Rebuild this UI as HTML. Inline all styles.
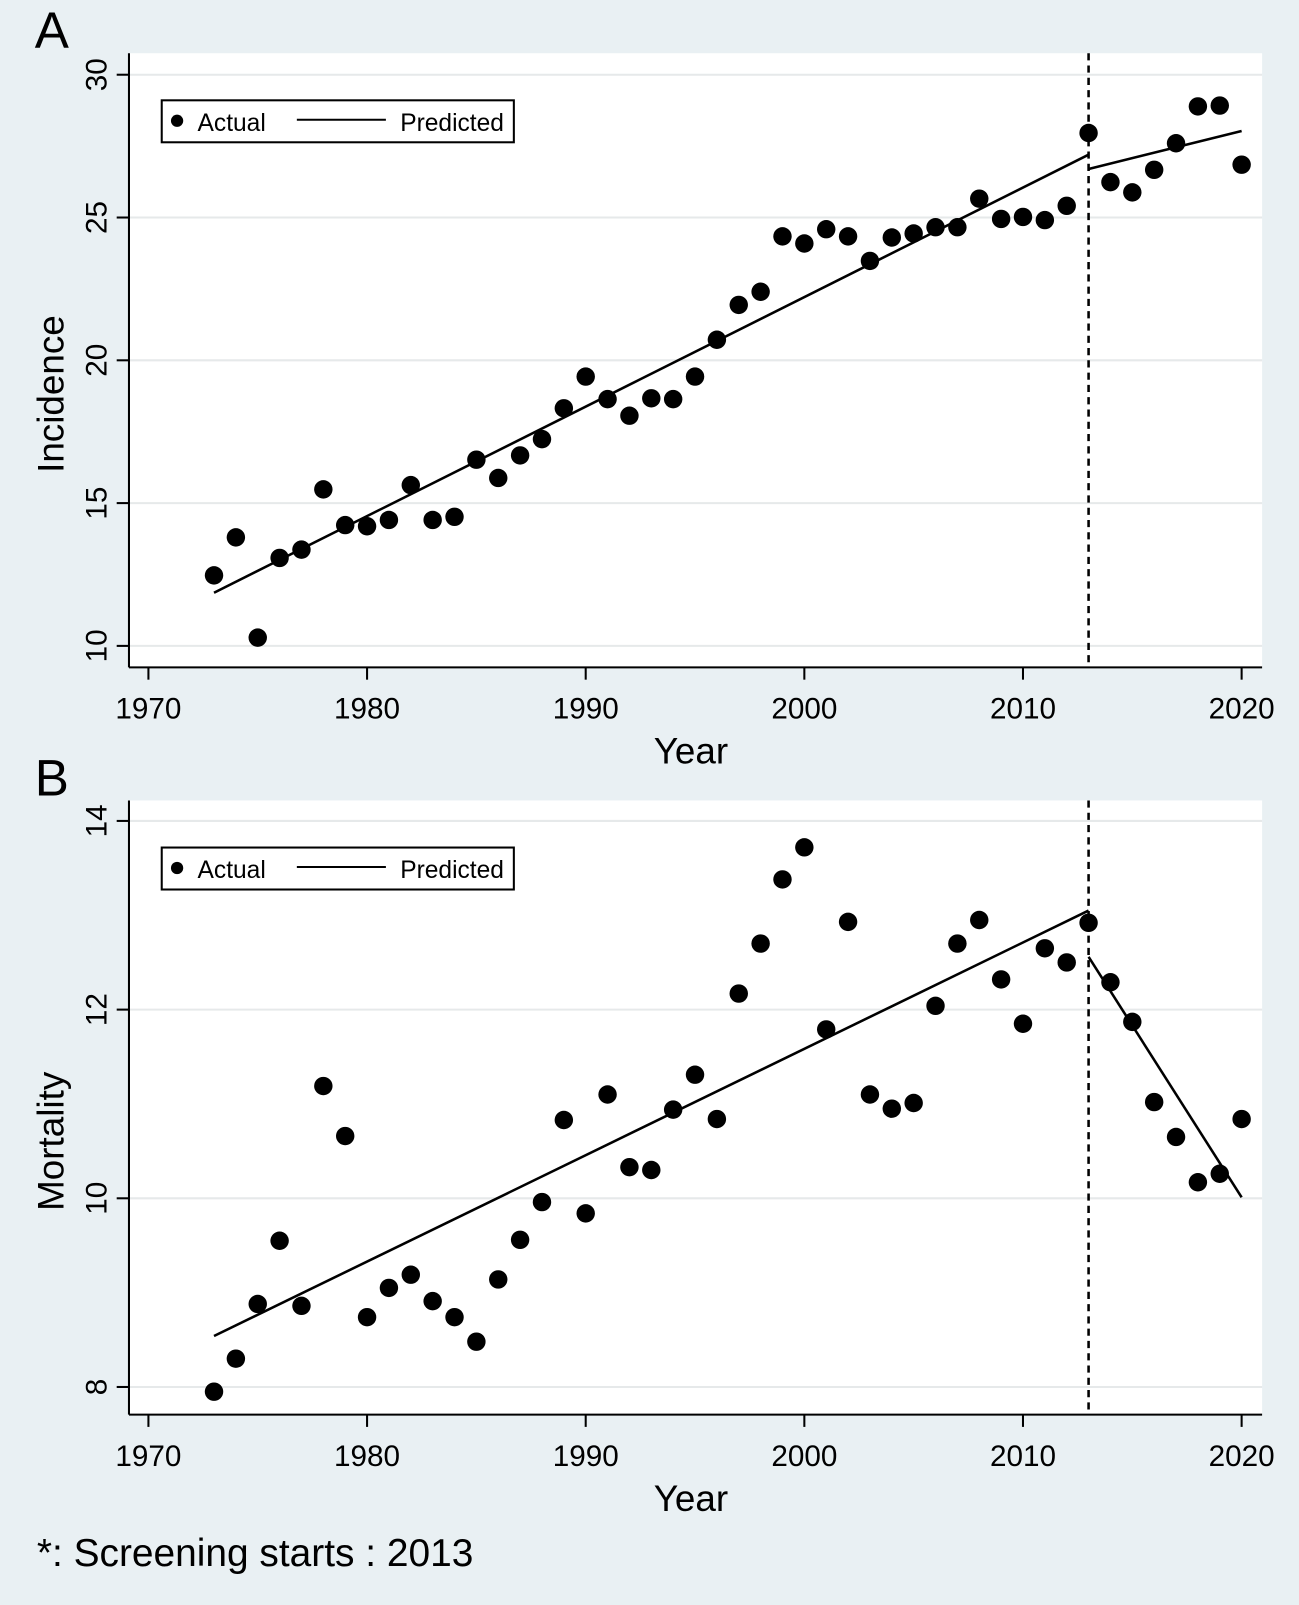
<!DOCTYPE html>
<html><head><meta charset="utf-8"><style>
body{margin:0;background:#e9f0f3;}
svg{display:block;font-family:"Liberation Sans",sans-serif;}
</style></head><body>
<svg id="c" width="1299" height="1605"><g id="root" transform="scale(1.0236)"></g></svg>
<script>
const years=[];for(let y=1973;y<=2020;y++)years.push(y);
const incidence=[12.47,13.8,10.29,13.08,13.37,15.48,14.23,14.19,14.41,15.63,14.41,14.52,16.52,15.88,16.67,17.24,18.32,19.43,18.64,18.06,18.67,18.64,19.43,20.72,21.94,22.4,24.34,24.09,24.59,24.34,23.48,24.3,24.44,24.66,24.66,25.66,24.95,25.02,24.91,25.41,27.96,26.24,25.88,26.67,27.6,28.89,28.92,26.85];
const mortality=[7.95,8.30,8.88,9.55,8.86,11.19,10.66,8.74,9.05,9.19,8.91,8.74,8.48,9.14,9.56,9.96,10.83,9.84,11.10,10.33,10.30,10.94,11.31,10.84,12.17,12.70,13.38,13.72,11.79,12.93,11.10,10.95,11.01,12.04,12.70,12.95,12.32,11.85,12.65,12.50,12.92,12.29,11.87,11.02,10.65,10.17,10.26,10.84];
const predIncYears=[1973,2013],predIncVals=[11.86,27.2];
const predIncYears2=[2013,2020],predIncVals2=[26.7,28.03];
const predMortYears=[1973,2013],predMortVals=[8.54,13.05];
const predMortYears2=[2013,2020],predMortVals2=[12.56,10.01];
const xTicks=[1970,1980,1990,2000,2010,2020];
const incTicks=[10,15,20,25,30];
const mortTicks=[8,10,12,14];
const NS='http://www.w3.org/2000/svg';
const svg=document.getElementById('root');
function mk(t,a,p){const e=document.createElementNS(NS,t);for(const k in a)e.setAttribute(k,a[k]);(p||svg).appendChild(e);return e;}
const X=y=>145+(y-1970)*(1213-145)/50;
function panel(o){
  const g=mk('g',{});
  
  
  const Y=v=>o.y0px+(v-o.v0)*(o.y1px-o.y0px)/(o.v1-o.v0);
  const bg=mk('rect',{x:126,y:o.top,width:1107,height:600,fill:'#fff'},g);
  
  o.ticks.forEach(t=>{
    const gl=mk('line',{x1:126,x2:1233,y1:Y(t),y2:Y(t),stroke:'#e6e9ea','stroke-width':2},g);
    
    mk('line',{x1:114,x2:126,y1:Y(t),y2:Y(t),stroke:'#000','stroke-width':2},g);
    const tx=mk('text',{x:0,y:0,'font-size':29,'text-anchor':'middle',transform:`translate(104,${Y(t)}) rotate(-90)`},g);
    tx.textContent=t;
    
  });
  mk('line',{x1:126,x2:126,y1:o.top,y2:o.top+600,stroke:'#000','stroke-width':2},g);
  mk('line',{x1:126,x2:1233,y1:o.top+600,y2:o.top+600,stroke:'#000','stroke-width':2},g);
  xTicks.forEach(t=>{
    mk('line',{x1:X(t),x2:X(t),y1:o.top+600,y2:o.top+612,stroke:'#000','stroke-width':2},g);
    const tx=mk('text',{x:X(t),y:o.top+650,'font-size':29,'text-anchor':'middle'},g);
    tx.textContent=t;
    
  });
  const xt=mk('text',{x:675,y:o.top+694,'font-size':36,'text-anchor':'middle'},g);xt.textContent='Year';
  
  const yt=mk('text',{x:0,y:0,'font-size':36,'text-anchor':'middle',transform:`translate(62,${o.top+333}) rotate(-90)`},g);yt.textContent=o.title;
  
  const pl=mk('text',{x:34,y:o.top-5,'font-size':50},g);pl.textContent=o.letter;
  
  const vl=mk('line',{x1:X(2013),x2:X(2013),y1:o.top,y2:o.top+600,stroke:'#000','stroke-width':2.5,'stroke-dasharray':'7,5'},g);
  
  [[o.p1y,o.p1v],[o.p2y,o.p2v]].forEach(([ys,vs])=>{
    const l=mk('polyline',{points:ys.map((y,i)=>X(y)+','+Y(vs[i])).join(' '),fill:'none',stroke:'#000','stroke-width':2.5},g);
    
  });
  o.data.forEach((v,i)=>{
    const c=mk('circle',{cx:X(years[i]),cy:Y(v),r:9,fill:'#000'},g);
    
  });
  const lg=mk('g',{},g);
  
  mk('rect',{x:158,y:o.top+46,width:344,height:41,fill:'#fff',stroke:'#000','stroke-width':2},lg);
  mk('circle',{cx:173,cy:o.top+66,r:6,fill:'#000'},lg);
  const a=mk('text',{x:193,y:o.top+76,'font-size':24},lg);a.textContent='Actual';
  mk('line',{x1:290,x2:377,y1:o.top+65,y2:o.top+65,stroke:'#000','stroke-width':2},lg);
  const p=mk('text',{x:391,y:o.top+76,'font-size':24},lg);p.textContent='Predicted';
}
panel({name:'incidence-panel',top:52,title:'Incidence',letter:'A',ticks:incTicks,v0:10,v1:30,y0px:631,y1px:73,data:incidence,p1y:predIncYears,p1v:predIncVals,p2y:predIncYears2,p2v:predIncVals2});
panel({name:'mortality-panel',top:782,title:'Mortality',letter:'B',ticks:mortTicks,v0:8,v1:14,y0px:1355,y1px:802,data:mortality,p1y:predMortYears,p1v:predMortVals,p2y:predMortYears2,p2v:predMortVals2});
const n=mk('text',{x:36,y:1530,'font-size':38});n.textContent='*: Screening starts : 2013';

</script>
</body></html>
